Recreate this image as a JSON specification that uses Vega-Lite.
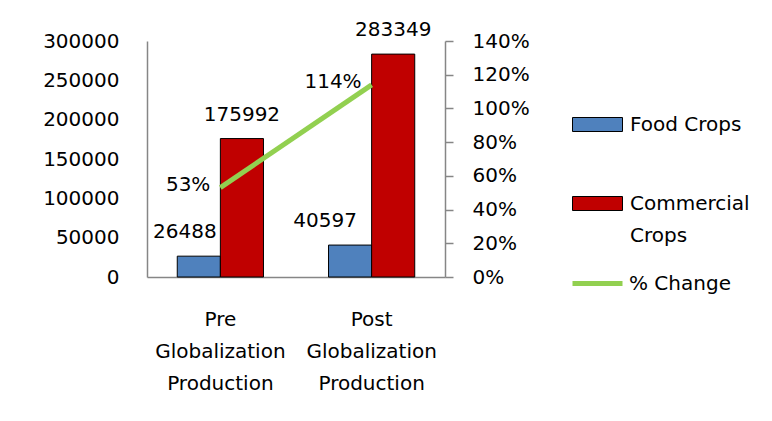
{
  "$schema": "https://vega.github.io/schema/vega-lite/v6.json",
  "autosize": {"type": "none"},
  "padding": {"left": 147, "top": 41, "right": 327, "bottom": 144},
  "width": 298,
  "height": 236,
  "background": "white",
  "config": {
    "font": "DejaVu Sans",
    "view": {"stroke": null},
    "text": {"fontSize": 20, "color": "black"},
    "style": {"guide-label": {"lineHeight": 32}},
    "axis": {"labelOverlap": false},
    "axisY": {"labelOverlap": false},
    "axisLeft": {"labelOverlap": false},
    "axisRight": {"labelOverlap": false}
  },
  "datasets": {
    "bars": [
      {"category": "Pre Globalization Production", "series": "Food Crops", "value": 26488},
      {"category": "Pre Globalization Production", "series": "Commercial Crops", "value": 175992},
      {"category": "Post Globalization Production", "series": "Food Crops", "value": 40597},
      {"category": "Post Globalization Production", "series": "Commercial Crops", "value": 283349}
    ],
    "change": [
      {"category": "Pre Globalization Production", "pct": 0.53},
      {"category": "Post Globalization Production", "pct": 1.14}
    ]
  },
  "encoding": {
    "x": {
      "field": "category",
      "type": "nominal",
      "sort": ["Pre Globalization Production", "Post Globalization Production"],
      "scale": {"paddingInner": 0.43, "paddingOuter": 0.2},
      "axis": {
        "title": null,
        "labelAngle": 0,
        "labelFontSize": 20,
        "labelColor": "black",
        "labelExpr": "split(datum.label, ' ')",
        "labelLineHeight": 32,
        "labelPadding": 32,
        "ticks": false,
        "domainColor": "#868686",
        "domainWidth": 1.5
      }
    }
  },
  "layer": [
    {
      "data": {"name": "bars"},
      "encoding": {
        "xOffset": {"field": "series", "type": "nominal", "scale": {"domain": ["Food Crops", "Commercial Crops"], "paddingInner": 0, "paddingOuter": 0}},
        "y": {
          "field": "value",
          "type": "quantitative",
          "scale": {"domain": [0, 300000], "nice": false},
          "axis": {
            "title": null,
            "values": [0, 50000, 100000, 150000, 200000, 250000, 300000],
            "format": "d",
            "grid": false,
            "ticks": false,
            "labelOverlap": false,
            "labelFontSize": 20,
            "labelColor": "black",
            "labelPadding": 28,
            "domainColor": "#868686",
            "domainWidth": 1.5
          }
        }
      },
      "layer": [
        {
          "mark": {"type": "bar", "stroke": "black", "strokeWidth": 1},
          "encoding": {
            "fill": {
              "field": "series",
              "type": "nominal",
              "scale": {"domain": ["Food Crops", "Commercial Crops"], "range": ["#4F81BD", "#C00000"]},
              "legend": {
                "title": null,
                "orient": "none",
                "legendX": 425,
                "legendY": 58,
                "padding": 0,
                "symbolSize": 2500,
                "symbolType": "M-1,-0.28H1V0.28H-1Z",
                "symbolStrokeColor": "black",
                "symbolStrokeWidth": 1,
                "symbolOpacity": 1,
                "labelFontSize": 20,
                "labelColor": "black",
                "labelOffset": 7,
                "rowPadding": 43,
                "labelLimit": 300,
                "labelExpr": "datum.label == 'Commercial Crops' ? ['Commercial', 'Crops'] : datum.label"
              }
            }
          }
        },
        {
          "transform": [{"filter": "datum.series == 'Food Crops' && datum.category == 'Pre Globalization Production'"}],
          "mark": {"type": "text", "baseline": "alphabetic", "dy": -18, "dx": -14, "fontSize": 20},
          "encoding": {
            "text": {"field": "value", "type": "quantitative", "format": "d"}
          }
        },
        {
          "transform": [{"filter": "datum.series == 'Food Crops' && datum.category == 'Post Globalization Production'"}],
          "mark": {"type": "text", "baseline": "alphabetic", "dy": -18, "dx": -25, "fontSize": 20},
          "encoding": {
            "text": {"field": "value", "type": "quantitative", "format": "d"}
          }
        },
        {
          "transform": [{"filter": "datum.series == 'Commercial Crops'"}],
          "mark": {"type": "text", "baseline": "alphabetic", "dy": -18, "fontSize": 20},
          "encoding": {
            "text": {"field": "value", "type": "quantitative", "format": "d"}
          }
        }
      ]
    },
    {
      "data": {"name": "change"},
      "encoding": {
        "y": {
          "field": "pct",
          "type": "quantitative",
          "scale": {"domain": [0, 1.4], "nice": false},
          "axis": {
            "orient": "right",
            "title": null,
            "values": [0, 0.2, 0.4, 0.6, 0.8, 1.0, 1.2, 1.4],
            "format": ".0%",
            "grid": false,
            "ticks": true,
            "tickSize": 8,
            "tickColor": "#868686",
            "tickWidth": 1.5,
            "labelOverlap": false,
            "labelFontSize": 20,
            "labelColor": "black",
            "labelPadding": 19,
            "domainColor": "#868686",
            "domainWidth": 1.5
          }
        }
      },
      "layer": [
        {
          "mark": {"type": "line", "strokeWidth": 5},
          "encoding": {
            "stroke": {
              "datum": "% Change",
              "type": "nominal",
              "scale": {"domain": ["% Change"], "range": ["#92D050"]},
              "legend": {
                "title": null,
                "orient": "none",
                "legendX": 423,
                "legendY": 215,
                "padding": 0,
                "symbolSize": 2500,
                "symbolType": "M-1,0H1",
                "symbolStrokeWidth": 5,
                "symbolOpacity": 1,
                "labelFontSize": 20,
                "labelColor": "black",
                "labelOffset": 4,
                "labelLimit": 300
              }
            }
          }
        },
        {
          "mark": {"type": "text", "align": "right", "baseline": "middle", "dx": -10, "dy": -3, "fontSize": 20},
          "encoding": {
            "text": {"field": "pct", "type": "quantitative", "format": ".0%"}
          }
        }
      ]
    }
  ],
  "resolve": {"scale": {"y": "independent"}}
}
